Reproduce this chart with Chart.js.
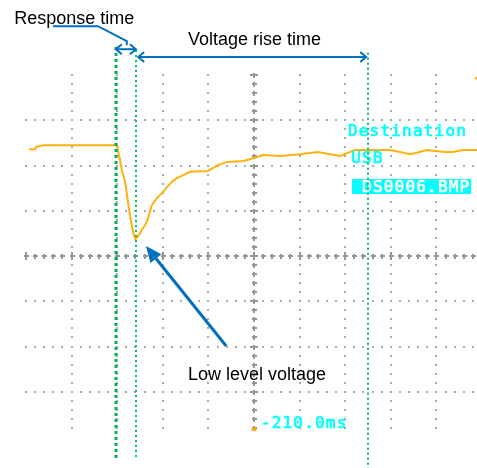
<!DOCTYPE html>
<html><head><meta charset="utf-8">
<script src="https://cdn.jsdelivr.net/npm/chart.js@4.4.1/dist/chart.umd.min.js"></script>
<style>html,body{margin:0;padding:0;background:#fff;overflow:hidden}</style>
</head><body>
<canvas id="c" width="477" height="468"></canvas>
<script>
// Units: horizontal = time divisions (0 = trigger/centre), vertical = voltage divisions (0 = centre)
const traceTime = [-4.93,-4.80,-4.78,-4.61,-3.00,-2.96,-2.94,-2.89,-2.83,-2.79,-2.76,-2.72,-2.68,-2.65,-2.61,-2.57,-2.46,-2.35,-2.24,-2.13,-2.02,-1.80,-1.69,-1.40,-1.01,-0.79,-0.59,-0.24,-0.09,0.20,0.57,1.01,1.40,1.67,1.89,2.11,2.21,2.98,3.20,3.42,3.57,3.79,4.19,4.36,4.58,4.89];
const traceVolt = [2.36,2.36,2.41,2.45,2.45,2.19,2.12,1.86,1.64,1.39,1.17,0.91,0.68,0.53,0.38,0.40,0.57,0.75,1.13,1.28,1.39,1.64,1.72,1.86,1.88,2.01,2.08,2.10,2.14,2.23,2.21,2.25,2.30,2.25,2.21,2.30,2.34,2.34,2.30,2.25,2.28,2.34,2.30,2.30,2.34,2.34];

const gridTimes = [-4,-3,-2,-1,0,1,2,3,4];
const gridVolts = [-3,-2,-1,0,1,2,3];

// green cursor lines: time position, top, bottom (divisions)
const cursorTimes  = [-3.03, -2.59, 2.50];
const cursorTops   = [4.62, 4.55, 4.49];
const cursorBottoms= [-4.51, -4.51, -4.69];

// annotation labels
const noteTexts = ['Response time', 'Voltage rise time', 'Low level voltage'];
const noteTimes = [-5.26, -1.45, -1.45];
const noteVolts = [5.13, 4.66, -2.74];

// response-time leader polyline
const leaderTimes = [-4.41, -3.42, -2.79, -2.79];
const leaderVolts = [5.08, 5.08, 4.75, 4.66];
const responseArrowVolt = 4.57;
const riseArrow = {from: -2.54, to: 2.46, volt: 4.40};
const lowArrowTimes = [-0.61, -2.37];
const lowArrowVolts = [-1.99, 0.22];

// scope screen texts
const screenTexts = ['Destination', 'USB', '-210.0ms'];
const screenTimes = [2.06, 2.13, 0.15];
const screenVolts = [2.65, 2.06, -3.80];
const fileName = 'DS0006.BMP';
const fileBox = {t0: 2.15, t1: 4.76, v0: 1.70, v1: 1.37, textT: 2.37, textV: 1.41};
const triggerMark = {t: 0, v: -3.82};
const levelMark = {t: 4.87, v: 3.93};

const scopePlugin = {
  id: 'scope',
  beforeDatasetsDraw(chart) {
    const {ctx, scales: {x, y}} = chart;
    const X = v => x.getPixelForValue(v), Y = v => y.getPixelForValue(v);
    ctx.save();
    ctx.fillStyle = '#ababab';
    // dotted vertical graticule lines
    for (const gt of gridTimes) {
      if (gt === 0) continue;
      for (let k = -19; k <= 20; k++) {
        const v = k * 0.2;
        if (Math.abs(v) < 1e-9) continue;
        ctx.fillRect(Math.round(X(gt)) - 1, Math.round(Y(v)) - 1, 2, 2);
      }
    }
    // dotted horizontal graticule lines
    for (const gv of gridVolts) {
      if (gv === 0) continue;
      for (let k = -25; k <= 24; k++) {
        const t = k * 0.2;
        if (Math.abs(t) < 1e-9) continue;
        ctx.fillRect(Math.round(X(t)) - 1, Math.round(Y(gv)) - 1, 2, 2);
      }
    }
    // centre axes with crosses
    ctx.fillStyle = '#959595';
    const cy0 = Math.round(Y(0)), cx0 = Math.round(X(0));
    for (let k = -25; k <= 24; k++) {
      const t = k * 0.2;
      const cx = Math.round(X(t));
      const big = Math.abs(t - Math.round(t)) < 1e-9;
      ctx.fillRect(cx - 2, cy0 - 1, 5, 2);
      ctx.fillRect(cx - 1, cy0 - (big ? 4 : 2), 2, big ? 8 : 5);
    }
    for (let k = -19; k <= 20; k++) {
      const v = k * 0.2;
      const cy = Math.round(Y(v));
      const big = Math.abs(v - Math.round(v)) < 1e-9;
      ctx.fillRect(cx0 - 1, cy - 2, 2, 5);
      ctx.fillRect(cx0 - (big ? 4 : 2), cy - 1, big ? 8 : 5, 2);
    }
    ctx.restore();
  },
  afterDatasetsDraw(chart) {
    const {ctx, scales: {x, y}} = chart;
    const X = v => x.getPixelForValue(v), Y = v => y.getPixelForValue(v);
    ctx.save();
    // screen texts
    ctx.font = '16px "DejaVu Sans Mono", monospace';
    try { ctx.letterSpacing = '1.2px'; } catch (e) {}
    ctx.textBaseline = 'alphabetic';
    ctx.fillStyle = '#00ffff';
    ctx.strokeStyle = '#00ffff';
    ctx.lineWidth = 0.7;
    screenTexts.forEach((s, i) => {
      ctx.fillText(s, X(screenTimes[i]), Y(screenVolts[i]));
      ctx.strokeText(s, X(screenTimes[i]), Y(screenVolts[i]));
    });
    ctx.fillRect(X(fileBox.t0), Y(fileBox.v0), X(fileBox.t1) - X(fileBox.t0), Y(fileBox.v1) - Y(fileBox.v0));
    ctx.fillStyle = '#ffffff';
    ctx.strokeStyle = '#ffffff';
    ctx.fillText(fileName, X(fileBox.textT), Y(fileBox.textV));
    ctx.strokeText(fileName, X(fileBox.textT), Y(fileBox.textV));
    try { ctx.letterSpacing = '0px'; } catch (e) {}
    // trigger markers
    ctx.fillStyle = '#ffa800';
    let mx = X(triggerMark.t), my = Y(triggerMark.v);
    ctx.beginPath(); ctx.moveTo(mx, my - 3); ctx.lineTo(mx + 3, my + 2); ctx.lineTo(mx - 3, my + 2); ctx.closePath(); ctx.fill();
    mx = X(levelMark.t); my = Y(levelMark.v);
    ctx.beginPath(); ctx.moveTo(mx - 2, my); ctx.lineTo(mx + 3, my - 3); ctx.lineTo(mx + 3, my + 3); ctx.closePath(); ctx.fill();

    // green cursors
    cursorTimes.forEach((t, i) => {
      ctx.strokeStyle = i === 0 ? '#00b050' : '#00c060';
      ctx.lineWidth = i === 0 ? 3 : 2;
      ctx.setLineDash(i === 0 ? [3, 3] : [2, 3]);
      ctx.beginPath();
      ctx.moveTo(Math.round(X(t)), Y(cursorTops[i]));
      ctx.lineTo(Math.round(X(t)), Y(cursorBottoms[i]));
      ctx.stroke();
    });
    ctx.setLineDash([]);

    // blue arrows
    const blue = '#0070c0';
    ctx.strokeStyle = blue; ctx.fillStyle = blue;
    ctx.lineWidth = 2; ctx.lineJoin = 'miter'; ctx.lineCap = 'butt';
    ctx.beginPath();
    leaderTimes.forEach((t, i) => { const px = X(t), py = Y(leaderVolts[i]); i ? ctx.lineTo(px, py) : ctx.moveTo(px, py); });
    ctx.stroke();
    const chevron = (px, py, dir) => {
      ctx.beginPath();
      ctx.moveTo(px - dir * 6, py - 5); ctx.lineTo(px, py); ctx.lineTo(px - dir * 6, py + 5);
      ctx.stroke();
    };
    const hArrow = (t0, t1, v) => {
      const x0 = X(t0), x1 = X(t1), py = Y(v);
      ctx.beginPath(); ctx.moveTo(x0, py); ctx.lineTo(x1, py); ctx.stroke();
      chevron(x0, py, -1); chevron(x1, py, 1);
    };
    hArrow(cursorTimes[0], cursorTimes[1], responseArrowVolt);
    hArrow(riseArrow.from, riseArrow.to, riseArrow.volt);
    // low level arrow with filled head
    const ax0 = X(lowArrowTimes[0]), ay0 = Y(lowArrowVolts[0]);
    const ax1 = X(lowArrowTimes[1]), ay1 = Y(lowArrowVolts[1]);
    const ang = Math.atan2(ay1 - ay0, ax1 - ax0);
    const hl = 16, hw = 7;
    const bx = ax1 - hl * Math.cos(ang), by = ay1 - hl * Math.sin(ang);
    ctx.lineWidth = 3;
    ctx.beginPath(); ctx.moveTo(ax0, ay0); ctx.lineTo(bx, by); ctx.stroke();
    ctx.beginPath();
    ctx.moveTo(ax1, ay1);
    ctx.lineTo(bx + hw * Math.sin(ang), by - hw * Math.cos(ang));
    ctx.lineTo(bx - hw * Math.sin(ang), by + hw * Math.cos(ang));
    ctx.closePath(); ctx.fill();

    // annotation texts
    ctx.fillStyle = '#000';
    ctx.font = '18px "Liberation Sans", Arial, sans-serif';
    noteTexts.forEach((s, i) => ctx.fillText(s, X(noteTimes[i]), Y(noteVolts[i])));
    ctx.restore();
  }
};

new Chart(document.getElementById('c'), {
  type: 'line',
  data: {
    datasets: [{
      data: traceTime.map((t, i) => ({x: t, y: traceVolt[i]})),
      borderColor: '#ffb10f',
      borderWidth: 2,
      pointRadius: 0,
      tension: 0,
      fill: false
    }]
  },
  options: {
    responsive: false,
    animation: false,
    layout: {padding: {left: 26, right: 0, top: 75, bottom: 31}},
    plugins: {legend: {display: false}, tooltip: {enabled: false}},
    scales: {
      x: {type: 'linear', min: -5, max: 4.89, display: false},
      y: {type: 'linear', min: -4, max: 4, display: false}
    }
  },
  plugins: [scopePlugin]
});
</script>
</body></html>
